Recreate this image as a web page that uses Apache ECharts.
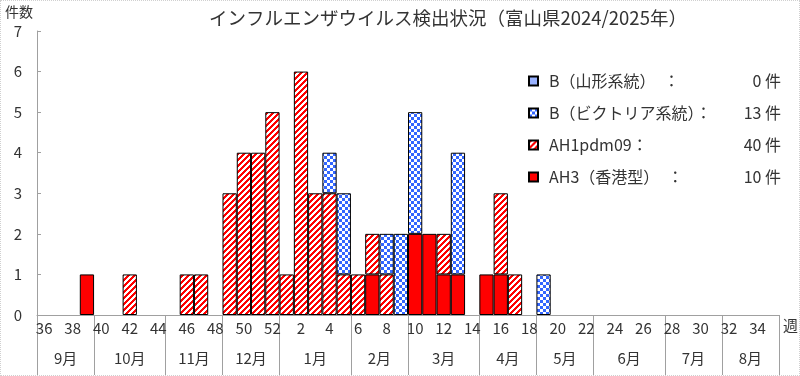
<!DOCTYPE html>
<html>
<head>
<meta charset="utf-8">
<script src="https://cdn.jsdelivr.net/npm/echarts@6/dist/echarts.min.js"></script>
<style>
html,body{margin:0;padding:0;background:#fff;}
#wrap{position:relative;width:800px;height:376px;}
#chart{width:800px;height:376px;}
#frame{position:absolute;left:0;top:0;width:800px;height:376px;box-sizing:border-box;border:1px dotted #d0d0d0;pointer-events:none;}
</style>
</head>
<body>
<div id="wrap"><div id="chart"></div><div id="frame"></div></div>
<script>
// ---- data ----
const weeks = ['36','37','38','39','40','41','42','43','44','45','46','47','48','49','50','51','52',
  '1','2','3','4','5','6','7','8','9','10','11','12','13','14','15','16','17','18','19','20',
  '21','22','23','24','25','26','27','28','29','30','31','32','33','34','35'];
const months = ['9月','10月','11月','12月','1月','2月','3月','4月','5月','6月','7月','8月'];
const monthWeekCounts = [4,5,4,4,5,4,5,4,4,5,4,4];
const seriesNames = ['B（山形系統）','B（ビクトリア系統）','AH1pdm09','AH3（香港型）'];
const legendLabels = ['B（山形系統）　：','B（ビクトリア系統）：','AH1pdm09：','AH3（香港型）　：'];
const bYamagata = [0,0,0,0,0,0,0,0,0,0, 0,0,0,0,0,0,0,0,0,0, 0,0,0,0,0,0,0,0,0,0, 0,0,0,0,0,0,0,0,0,0, 0,0,0,0,0,0,0,0,0,0, 0,0];
const bVictoria = [0,0,0,0,0,0,0,0,0,0, 0,0,0,0,0,0,0,0,0,0, 1,2,0,0,1,2,3,0,0,3, 0,0,0,0,0,1,0,0,0,0, 0,0,0,0,0,0,0,0,0,0, 0,0];
const ah1pdm09 = [0,0,0,0,0,0,1,0,0,0, 1,1,0,3,4,4,5,1,6,3, 3,1,1,1,1,0,0,0,1,0, 0,0,2,1,0,0,0,0,0,0, 0,0,0,0,0,0,0,0,0,0, 0,0];
const ah3 = [0,0,0,1,0,0,0,0,0,0, 0,0,0,0,0,0,0,0,0,0, 0,0,0,1,0,0,2,2,1,1, 0,1,1,0,0,0,0,0,0,0, 0,0,0,0,0,0,0,0,0,0, 0,0];
const yTicks = [0,1,2,3,4,5,6,7];

// ---- patterns ----
function makePattern(size, fn){
  const c = document.createElement('canvas');
  c.width = size; c.height = size;
  const ctx = c.getContext('2d');
  for (let y=0;y<size;y++) for (let x=0;x<size;x++){
    ctx.fillStyle = fn(x,y); ctx.fillRect(x,y,1,1);
  }
  return {image: c, repeat: 'repeat'};
}
const BLUE = '#3366ff', RED = '#ff0000';
const patStripe = makePattern(6, (x,y)=> ((x+y)%6 < 3) ? RED : '#ffffff');
const patChecker = makePattern(6, (x,y)=> ((Math.floor(x/3)+Math.floor(y/3))%2===0) ? BLUE : '#ffffff');
const patFine = makePattern(2, (x,y)=> ((x+y)%2===0) ? BLUE : '#ffffff');

// ---- build ----
const sum = a => a.reduce((s,v)=>s+v,0);
const toBar = a => a.map(v => v === 0 ? '-' : v);
const order = [ah3, ah1pdm09, bVictoria, bYamagata];
const orderNames = [seriesNames[3], seriesNames[2], seriesNames[1], seriesNames[0]];
const orderFill = [RED, patStripe, patChecker, patFine];
const allData = {};
seriesNames.forEach((n,i)=>{ allData[n] = [bYamagata,bVictoria,ah1pdm09,ah3][i]; });

const monthBounds = [0]; monthWeekCounts.forEach(c => monthBounds.push(monthBounds[monthBounds.length-1]+c));
const monthCenters = months.map((m,i)=> (monthBounds[i]+monthBounds[i+1])/2);

const font = 'Noto Sans CJK JP';
const txt = '#333333';
const axisGray = '#a0a0a0';
const gridRect = {left:37, right:21, top:31, bottom:61};

const option = {
  animation: false,
  textStyle: {fontFamily: font, color: txt},
  title: {text: 'インフルエンザウイルス検出状況（富山県2024/2025年）', left: 204, top: 4,
    textStyle: {fontFamily: font, fontSize: 18.5, fontWeight: 'normal', color: txt}},
  legend: {
    orient: 'vertical', left: 523, top: 66, itemWidth: 9, itemHeight: 9, itemGap: 12,
    icon: 'rect',
    data: seriesNames,
    formatter: name => {
      const i = seriesNames.indexOf(name);
      return '{n|' + legendLabels[i] + '}{c|' + sum(allData[name]) + ' 件}';
    },
    textStyle: {fontFamily: font, fontSize: 16, color: txt, lineHeight: 20,
      rich: {n: {width: 182, padding: [0,0,0,6], fontSize: 16, fontFamily: font, color: txt},
             c: {width: 50, align: 'right', fontSize: 16, fontFamily: font, color: txt}}}
  },
  grid: [Object.assign({}, gridRect), Object.assign({}, gridRect)],
  xAxis: [{
    type: 'category', gridIndex: 0, data: weeks, boundaryGap: true,
    axisLine: {lineStyle: {color: axisGray}},
    axisTick: {interval: 0, length: 28, lineStyle: {color: axisGray}},
    axisLabel: {interval: 1, margin: 6, fontSize: 15, color: txt, fontFamily: font},
    splitLine: {show: false}
  }, {
    type: 'value', gridIndex: 1, min: 0, max: weeks.length,
    axisLine: {show: false},
    axisTick: {show: true, customValues: monthBounds, length: 60, lineStyle: {color: axisGray}},
    axisLabel: {customValues: monthCenters, margin: 36, fontSize: 15, color: txt, fontFamily: font,
      formatter: v => { const i = monthCenters.indexOf(v); return i >= 0 ? months[i] : ''; }},
    splitLine: {show: false}
  }],
  yAxis: [{
    type: 'value', gridIndex: 0, min: 0, max: 7, interval: 1,
    axisLine: {show: true, lineStyle: {color: axisGray}},
    axisTick: {show: true, inside: true, length: 4, lineStyle: {color: axisGray}},
    axisLabel: {margin: 15, fontSize: 15, color: txt, fontFamily: font,
      formatter: v => yTicks.indexOf(v) >= 0 ? String(v) : ''},
    splitLine: {show: false}
  }, {
    type: 'value', gridIndex: 1, show: false, min: 0, max: 7
  }],
  graphic: [
    {type: 'text', left: 5, top: 5, style: {text: '件数', fontSize: 14, fontFamily: font, fill: txt}},
    {type: 'text', left: 783, top: 318, style: {text: '週', fontSize: 15, fontFamily: font, fill: txt}}
  ],
  series: order.map((arr, k) => ({
    name: orderNames[k], type: 'bar', stack: 'total', xAxisIndex: 0, yAxisIndex: 0,
    barCategoryGap: '0%', barGap: '0%',
    data: toBar(arr),
    itemStyle: {color: orderFill[k], borderColor: '#000000', borderWidth: 1}
  }))
};
const chart = echarts.init(document.getElementById('chart'), null, {renderer: 'canvas'});
chart.setOption(option);
</script>
</body>
</html>
